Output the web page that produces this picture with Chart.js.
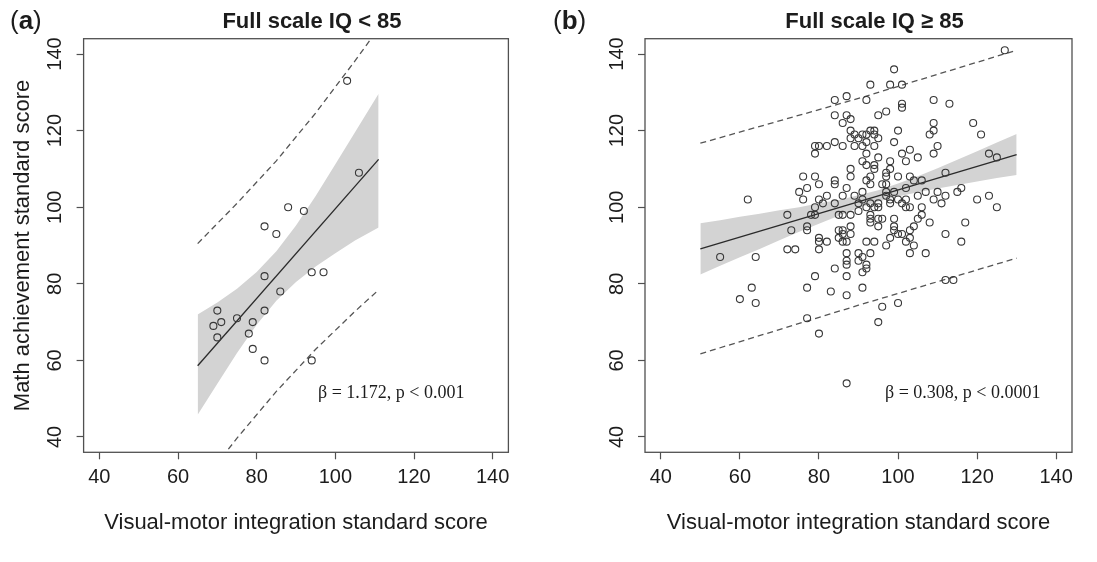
<!DOCTYPE html>
<html>
<head>
<meta charset="utf-8">
<script src="https://cdn.jsdelivr.net/npm/chart.js@4.4.1/dist/chart.umd.min.js"></script>
<style>
  html, body { margin: 0; padding: 0; background: #fff; }
  #wrap { position: relative; width: 1097px; height: 562px; overflow: hidden; }
  .panel { position: absolute; top: 0; height: 562px; }
  #pa { left: 0; width: 548px; }
  #pb { left: 548px; width: 549px; }
</style>
</head>
<body>
<div id="wrap">
  <div class="panel" id="pa"><canvas id="chart-a" width="548" height="562"></canvas></div>
  <div class="panel" id="pb"><canvas id="chart-b" width="549" height="562"></canvas></div>
</div>
<script>
// axis ticks (both panels, both axes)
const X_TICKS = [40, 60, 80, 100, 120, 140];
const Y_TICKS = [40, 60, 80, 100, 120, 140];

// ---- panel (a): Full scale IQ < 85 ----
const aVmi  = [103, 106, 88, 92, 82, 85, 82, 94, 97, 86, 82, 70, 75, 71, 79, 69, 78, 70, 79, 82, 94];
const aMath = [133, 109, 100, 99, 95, 93, 82, 83, 83, 78, 73, 73, 71, 70, 70, 69, 67, 66, 63, 60, 60];
const aFitX = [65, 111];
const aFitY = [58.6, 112.5];
const aBandX  = [65, 70, 75, 80, 85, 90, 95, 100, 105, 111];
const aBandHi = [72.0, 75.1, 78.7, 83.1, 88.5, 95.2, 102.9, 111.2, 119.6, 129.6];
const aBandLo = [45.8, 53.9, 61.9, 69.3, 75.6, 80.5, 84.5, 88.0, 91.3, 94.7];
const aPredX  = [65, 75, 85, 95, 105, 111];
const aPredHi = [90.5, 101.0, 112.1, 124.6, 138.2, 146.7];
const aPredLo = [26.5, 39.7, 51.9, 62.9, 72.8, 78.4];

// ---- panel (b): Full scale IQ >= 85 ----
const bVmi = [127, 99, 93, 98, 101, 84, 92, 87, 109, 101, 101, 113, 97, 95, 84, 87, 86, 88, 109, 119,
  100, 88, 93, 94, 109, 108, 121, 89, 91, 92, 94, 88, 90, 95, 99, 84, 92, 79, 80, 82,
  86, 89, 91, 94, 110, 79, 92, 101, 109, 123, 103, 125, 95, 105, 102, 91, 98, 92, 94, 98,
  88, 94, 97, 112, 76, 79, 88, 93, 100, 103, 97, 84, 92, 104, 106, 84, 93, 80, 96, 97,
  77, 87, 116, 75, 91, 107, 110, 115, 102, 97, 99, 82, 86, 89, 97, 105, 112, 123, 62, 76,
  80, 91, 98, 100, 102, 109, 120, 111, 81, 84, 90, 93, 95, 98, 101, 72, 79, 92, 94, 95,
  102, 103, 106, 125, 90, 85, 86, 88, 78, 79, 93, 106, 93, 95, 96, 99, 105, 93, 108, 117,
  95, 99, 104, 77, 77, 73, 85, 86, 88, 99, 103, 86, 88, 100, 101, 112, 85, 80, 98, 103,
  80, 82, 86, 87, 92, 94, 102, 116, 97, 104, 72, 74, 80, 90, 93, 103, 107, 87, 55, 64,
  91, 87, 90, 87, 92, 92, 84, 91, 79, 87, 112, 114, 63, 77, 91, 83, 60, 87, 64, 100,
  96, 77, 95, 80, 87];
const bMath = [141, 136, 132, 132, 132, 128, 128, 129, 128, 127, 126, 127, 125, 124, 124, 124, 122, 123, 122, 122,
  120, 120, 120, 120, 120, 119, 119, 119, 119, 119, 119, 118, 118, 118, 117, 117, 117, 116, 116, 116,
  116, 116, 116, 116, 116, 114, 114, 114, 114, 114, 115, 113, 113, 113, 112, 112, 112, 111, 111, 110,
  110, 110, 109, 109, 108, 108, 108, 108, 108, 108, 108, 107, 107, 107, 107, 106, 106, 106, 106, 106,
  105, 105, 105, 104, 104, 104, 104, 104, 105, 104, 104, 103, 103, 103, 103, 103, 103, 103, 102, 102,
  102, 102, 102, 102, 102, 102, 102, 101, 101, 101, 101, 101, 101, 101, 101, 98, 100, 100, 100, 100,
  100, 100, 100, 100, 99, 98, 98, 98, 98, 98, 98, 98, 97, 97, 97, 97, 97, 96, 96, 96,
  95, 95, 95, 95, 94, 94, 94, 94, 95, 94, 94, 93, 93, 93, 93, 93, 92, 92, 92, 92,
  91, 91, 91, 91, 91, 91, 91, 91, 90, 90, 89, 89, 89, 88, 88, 88, 88, 88, 87, 87,
  87, 86, 86, 85, 85, 84, 84, 83, 82, 82, 81, 81, 79, 79, 79, 78, 76, 77, 75, 75,
  74, 71, 70, 67, 54];
const bFitX = [50, 130];
const bFitY = [89.1, 113.7];
const bBandX  = [50, 55, 60, 65, 70, 75, 80, 85, 90, 95, 100, 105, 110, 115, 120, 125, 130];
const bBandHi = [95.8, 96.6, 97.5, 98.3, 99.2, 100.0, 101.0, 101.9, 103.1, 104.4, 106.2, 108.1, 110.2, 112.4, 114.6, 116.9, 119.1];
const bBandLo = [82.4, 84.7, 86.9, 89.1, 91.4, 93.6, 95.7, 97.8, 99.8, 101.5, 102.8, 103.9, 104.9, 105.8, 106.7, 107.6, 108.4];
const bPredX  = [50, 90, 130];
const bPredHi = [116.7, 128.4, 141.0];
const bPredLo = [61.7, 74.4, 86.7];

const SANS = '"Liberation Sans", Arial, Helvetica, sans-serif';
const SERIF = '"Liberation Serif", "Times New Roman", serif';
const TEXT = "#1c1c1c";
const AXIS = "#505050";
const BAND = "#d3d3d3";
const CLEAR = "rgba(0,0,0,0)";

const zip = (xs, ys) => xs.map((x, i) => ({ x, y: ys[i] }));

// box, title, panel tag and the beta note
const panelText = {
  id: "panelText",
  afterDraw(chart, args, o) {
    const { ctx, chartArea: ca, scales: { x, y } } = chart;
    ctx.save();
    ctx.strokeStyle = AXIS;
    ctx.lineWidth = 1.3;
    ctx.strokeRect(ca.left, ca.top, ca.right - ca.left, ca.bottom - ca.top);

    ctx.fillStyle = TEXT;
    ctx.textBaseline = "middle";
    ctx.textAlign = "center";
    ctx.font = `bold 22px ${SANS}`;
    ctx.fillText(o.title, (ca.left + ca.right) / 2 + 16, 22);

    ctx.textAlign = "left";
    let tx = o.tagX;
    ctx.font = `26px ${SANS}`;
    ctx.fillText("(", tx, 22);
    tx += ctx.measureText("(").width;
    ctx.font = `bold 26px ${SANS}`;
    ctx.fillText(o.tag, tx, 22);
    tx += ctx.measureText(o.tag).width;
    ctx.font = `26px ${SANS}`;
    ctx.fillText(")", tx, 22);

    ctx.font = `18px ${SERIF}`;
    ctx.fillText(o.note, x.getPixelForValue(o.noteX), y.getPixelForValue(o.noteY));
    ctx.restore();
  },
};

function makePanel(id, p) {
  const lineSet = (data, extra) => Object.assign({
    data, showLine: true, pointRadius: 0, pointHoverRadius: 0, fill: false,
  }, extra);

  return new Chart(document.getElementById(id), {
    type: "scatter",
    data: {
      datasets: [
        lineSet(zip(p.bandX, p.bandLo), { borderColor: CLEAR, borderWidth: 1, order: 3 }),
        lineSet(zip(p.bandX, p.bandHi), { borderColor: CLEAR, borderWidth: 1, fill: "-1", backgroundColor: BAND, order: 3 }),
        lineSet(zip(p.fitX, p.fitY), { borderColor: "#2a2a2a", borderWidth: 1.3, order: 2 }),
        lineSet(zip(p.predX, p.predHi), { borderColor: "#555", borderWidth: 1.3, borderDash: [6, 4], order: 2 }),
        lineSet(zip(p.predX, p.predLo), { borderColor: "#555", borderWidth: 1.3, borderDash: [6, 4], order: 2 }),
        {
          data: zip(p.vmi, p.math),
          pointRadius: 3.5,
          pointBorderWidth: 1.1,
          pointBorderColor: "#383838",
          pointBackgroundColor: CLEAR,
          order: 1,
        },
      ],
    },
    options: {
      responsive: false,
      animation: false,
      events: [],
      layout: { padding: { top: 38.7, right: p.padRight, left: 0, bottom: 0 } },
      scales: {
        x: {
          type: "linear",
          min: 36,
          max: 144,
          afterBuildTicks: (s) => { s.ticks = X_TICKS.map((v) => ({ value: v })); },
          afterFit: (s) => { s.height = 562 - 452.3; },
          grid: { drawOnChartArea: false, drawTicks: true, tickLength: 7, tickColor: AXIS, tickWidth: 1.2 },
          border: { display: false },
          ticks: { color: TEXT, font: { size: 20, family: SANS }, padding: 6.5, maxRotation: 0, autoSkip: false },
          title: {
            display: true,
            text: "Visual-motor integration standard score",
            color: TEXT,
            font: { size: 22, family: SANS },
            padding: { top: 0, bottom: 26 },
          },
        },
        y: {
          type: "linear",
          min: 36,
          max: 144,
          afterBuildTicks: (s) => { s.ticks = Y_TICKS.map((v) => ({ value: v })); },
          afterFit: (s) => { s.width = p.boxLeft; },
          grid: { drawOnChartArea: false, drawTicks: true, tickLength: 7, tickColor: AXIS, tickWidth: 1.2 },
          border: { display: false },
          ticks: {
            color: TEXT, font: { size: 20, family: SANS }, padding: 4,
            minRotation: 90, maxRotation: 90, crossAlign: "center", autoSkip: false,
          },
          title: {
            display: p.yTitle,
            text: "Math achievement standard score",
            color: TEXT,
            font: { size: 22, family: SANS },
            padding: { top: 10, bottom: 0 },
          },
        },
      },
      plugins: {
        legend: { display: false },
        tooltip: { enabled: false },
        panelText: { title: p.title, tag: p.tag, tagX: p.tagX, note: p.note, noteX: p.noteX, noteY: 51.3 },
      },
    },
    plugins: [panelText],
  });
}

makePanel("chart-a", {
  vmi: aVmi, math: aMath, fitX: aFitX, fitY: aFitY,
  bandX: aBandX, bandHi: aBandHi, bandLo: aBandLo,
  predX: aPredX, predHi: aPredHi, predLo: aPredLo,
  boxLeft: 83.6, padRight: 548 - 508.4, yTitle: true,
  title: "Full scale IQ < 85", tag: "a", tagX: 10,
  note: "β = 1.172, p < 0.001", noteX: 95.6,
});

makePanel("chart-b", {
  vmi: bVmi, math: bMath, fitX: bFitX, fitY: bFitY,
  bandX: bBandX, bandHi: bBandHi, bandLo: bBandLo,
  predX: bPredX, predHi: bPredHi, predLo: bPredLo,
  boxLeft: 97, padRight: 549 - 524, yTitle: false,
  title: "Full scale IQ ≥ 85", tag: "b", tagX: 5,
  note: "β = 0.308, p < 0.0001", noteX: 96.7,
});
</script>
</body>
</html>
